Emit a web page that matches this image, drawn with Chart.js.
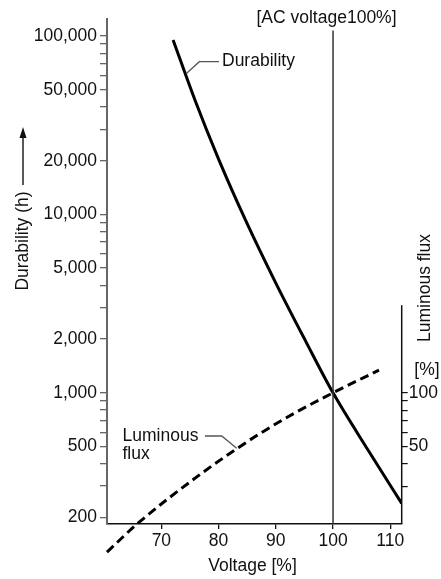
<!DOCTYPE html>
<html>
<head>
<meta charset="utf-8">
<script src="https://cdn.jsdelivr.net/npm/chart.js@4.4.1/dist/chart.umd.min.js"></script>
<style>
  html, body { margin: 0; padding: 0; background: #fff; }
  #wrap { width: 441px; height: 579px; position: relative; }
</style>
</head>
<body>
<div id="wrap"><canvas id="grafico"></canvas></div>
<script>
// Durability (h) vs voltage
const durVoltage = [72.05, 75.95, 79.98, 84.71, 89.96, 95.21, 100, 106.06, 112];
const durHours = [95000, 43050, 20490, 9290, 4150, 1950, 1000, 481, 240];

// Luminous flux (%) vs voltage
const fluxVoltage = [60.5, 65.75, 76.83, 83.25, 87.33, 93.16, 100, 108.03];
const fluxPct = [12.8, 18.4, 35.0, 48.8, 59.4, 76.6, 100, 134.1];

// ticks
const xTicks = [70, 80, 90, 100, 110];
const yTicks = [200, 300, 400, 500, 600, 700, 800, 900, 1000, 2000, 3000, 4000, 5000,
    6000, 7000, 8000, 9000, 10000, 20000, 30000, 40000, 50000, 60000, 70000, 80000, 90000, 100000];
const yLabeled = [200, 500, 1000, 2000, 5000, 10000, 20000, 50000, 100000];
const y2Ticks = [30, 40, 50, 60, 70, 80, 90, 100];
const y2Labeled = [50, 100];

const FONT = '"Liberation Sans", Arial, sans-serif';
const FS = 17.5;

const extras = {
    id: 'extras',
    afterDraw(chart) {
        const c = chart.ctx;
        const x = chart.scales.x, y2 = chart.scales.y2;
        const bottom = chart.chartArea.bottom;
        c.save();

        // AC voltage 100% line
        c.strokeStyle = '#333';
        c.lineWidth = 1.5;
        c.beginPath();
        c.moveTo(x.getPixelForValue(100), 30.5);
        c.lineTo(x.getPixelForValue(100), bottom);
        c.stroke();

        // right axis line (short)
        c.strokeStyle = '#111';
        c.lineWidth = 1.5;
        const rx = chart.chartArea.right;
        c.beginPath();
        c.moveTo(rx, y2.getPixelForValue(310));
        c.lineTo(rx, bottom);
        c.stroke();

        // leaders
        c.strokeStyle = '#555';
        c.lineWidth = 1.3;
        c.beginPath();
        c.moveTo(219, 61.7); c.lineTo(199.3, 61.7); c.lineTo(186.7, 73.3);
        c.moveTo(205, 436); c.lineTo(221.7, 436); c.lineTo(236.7, 448.3);
        c.stroke();

        // arrow next to y title
        c.strokeStyle = '#222';
        c.fillStyle = '#111';
        c.lineWidth = 1.5;
        c.beginPath();
        c.moveTo(23, 185); c.lineTo(23, 136);
        c.stroke();
        c.beginPath();
        c.moveTo(23, 127); c.lineTo(19.5, 138); c.lineTo(26.5, 138);
        c.closePath(); c.fill();

        c.fillStyle = '#111';
        c.font = FS + 'px ' + FONT;
        c.textBaseline = 'middle';
        c.textAlign = 'center';
        c.fillText('[AC voltage100%]', 326.5, 18);
        c.fillText('Voltage [%]', 252.5, 566.5);
        c.fillText('[%]', 427, 370);
        c.textAlign = 'left';
        c.fillText('Durability', 222, 61);
        c.fillText('Luminous', 122.5, 436);
        c.fillText('flux', 122.5, 454);

        c.textAlign = 'center';
        c.save();
        c.translate(23, 241);
        c.rotate(-Math.PI / 2);
        c.fillText('Durability (h)', 0, 0);
        c.restore();
        c.save();
        c.translate(425, 288);
        c.rotate(-Math.PI / 2);
        c.fillText('Luminous flux', 0, 0);
        c.restore();

        c.restore();
    }
};

const ctx = document.getElementById('grafico').getContext('2d');

const grafico = new Chart(ctx, {
    type: 'line',
    data: {
        datasets: [
            {
                label: 'Durability',
                data: durVoltage.map((v, i) => ({ x: v, y: durHours[i] })),
                borderColor: '#000',
                borderWidth: 3,
                pointRadius: 0,
                cubicInterpolationMode: 'monotone',
                yAxisID: 'y'
            },
            {
                label: 'Luminous flux',
                data: fluxVoltage.map((v, i) => ({ x: v, y: fluxPct[i] })),
                borderColor: '#000',
                borderWidth: 3,
                borderDash: [9, 5],
                pointRadius: 0,
                cubicInterpolationMode: 'monotone',
                clip: false,
                yAxisID: 'y2'
            }
        ]
    },
    options: {
        responsive: true,
        maintainAspectRatio: false,
        animation: false,
        layout: { padding: { top: 19, left: 0, right: 0, bottom: 0 } },
        plugins: { legend: { display: false }, tooltip: { enabled: false } },
        scales: {
            x: {
                type: 'linear',
                min: 60.5,
                max: 112,
                afterBuildTicks: s => { s.ticks = xTicks.map(v => ({ value: v })); },
                afterFit: s => { s.height = 55; },
                grid: { drawOnChartArea: false, tickLength: 5, color: '#111', lineWidth: 1.3 },
                border: { color: '#111', width: 1.5 },
                ticks: { color: '#111', padding: 2, font: { family: FONT, size: FS }, maxRotation: 0 }
            },
            y: {
                type: 'logarithmic',
                position: 'left',
                min: 184,
                max: 124500,
                afterBuildTicks: s => { s.ticks = yTicks.map(v => ({ value: v })); },
                afterFit: s => { s.width = 107; },
                grid: { drawOnChartArea: false, tickLength: 7, color: '#666', lineWidth: 1.3 },
                border: { color: '#666', width: 2 },
                ticks: {
                    autoSkip: false,
                    color: '#111',
                    padding: 3,
                    font: { family: FONT, size: FS },
                    callback: v => yLabeled.includes(v) ? v.toLocaleString('en-US') : ''
                }
            },
            y2: {
                type: 'logarithmic',
                position: 'right',
                min: 18.4,
                max: 12450,
                afterBuildTicks: s => { s.ticks = y2Ticks.map(v => ({ value: v })); },
                afterFit: s => { s.width = 39.3; },
                grid: { drawOnChartArea: false, tickLength: 6, color: '#111', lineWidth: 1.2 },
                border: { display: false },
                ticks: {
                    autoSkip: false,
                    color: '#111',
                    padding: 1,
                    font: { family: FONT, size: FS },
                    callback: v => y2Labeled.includes(v) ? String(v) : ''
                }
            }
        }
    },
    plugins: [extras]
});
</script>
</body>
</html>
